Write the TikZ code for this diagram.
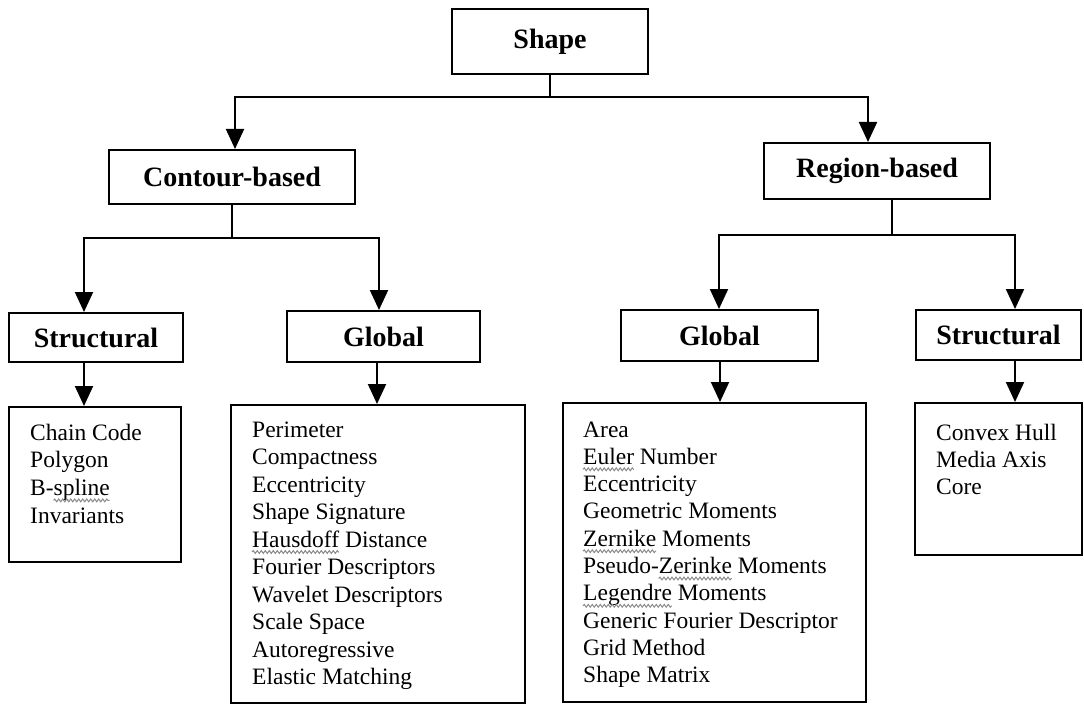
\documentclass[tikz,border=0pt]{standalone}
\usepackage{fontspec}
\setmainfont{Liberation Serif}
\usetikzlibrary{arrows.meta,decorations.pathmorphing}
\begin{document}
\begin{tikzpicture}[x=1pt,y=-1pt,
  box/.style={draw, line width=2pt, inner sep=0pt, anchor=center},
  head/.style={box, font=\fontsize{28}{32}\selectfont\bfseries},
  item/.style={anchor=base west, inner sep=0pt, font=\fontsize{23.5}{27.5}\selectfont},
  link/.style={line width=2pt},
  squig/.style={draw=black!45, line width=1pt, decorate,
    decoration={snake, amplitude=1.4pt, segment length=4pt}},
  arr/.style={line width=2pt, -{Triangle[width=18pt,length=20pt]}}]
\useasboundingbox[fill=white] (0,0) rectangle (1084,706);

% heading boxes
\node[head, minimum width=196pt, minimum height=65pt] (shape) at (550,41.5) {Shape};
\node[head, minimum width=246pt, minimum height=54pt] (contour) at (232,177) {Contour-based};
\node[head, minimum width=226pt, minimum height=56pt] (region) at (877,171) {Region-based};
\node[head, minimum width=174pt, minimum height=49pt] (structL) at (96,337.5) {Structural};
\node[head, minimum width=193pt, minimum height=51pt] (globalL) at (383.5,336.5) {Global};
\node[head, minimum width=197pt, minimum height=51pt] (globalR) at (719.5,335.5) {Global};
\node[head, minimum width=165pt, minimum height=50pt] (structR) at (998.5,335) {Structural};

% list boxes
\node[box, minimum width=172pt, minimum height=155pt] (listSL) at (95,484.5) {};
\node[box, minimum width=294pt, minimum height=298pt] (listGL) at (378,554) {};
\node[box, minimum width=303pt, minimum height=299pt] (listGR) at (714.5,552.5) {};
\node[box, minimum width=167pt, minimum height=152pt] (listSR) at (998.5,479) {};

% list items
\foreach \t [count=\i] in {Chain Code, Polygon, B-spline, Invariants}
  \node[item] (sl\i) at ({30},{440+27.7*(\i-1)}) {\t};
\foreach \t [count=\i] in {Perimeter, Compactness, Eccentricity, Shape Signature,
    Hausdoff Distance, Fourier Descriptors, Wavelet Descriptors, Scale Space,
    Autoregressive, Elastic Matching}
  \node[item] (gl\i) at ({252},{437+27.5*(\i-1)}) {\t};
\foreach \t [count=\i] in {Area, Euler Number, Eccentricity, Geometric Moments,
    Zernike Moments, Pseudo-Zerinke Moments, Legendre Moments,
    Generic Fourier Descriptor, Grid Method, Shape Matrix}
  \node[item] (gr\i) at ({583},{437+27.3*(\i-1)}) {\t};
\foreach \t [count=\i] in {Convex Hull, Media Axis, Core}
  \node[item] (sr\i) at ({936},{440+27.3*(\i-1)}) {\t};

% spelling squiggles under some words
\fontsize{23.5}{27.5}\selectfont
\pgfmathsetmacro\wBd{width("B-")}
\pgfmathsetmacro\wSp{width("spline")}
\pgfmathsetmacro\wHa{width("Hausdoff")}
\pgfmathsetmacro\wEu{width("Euler")}
\pgfmathsetmacro\wZe{width("Zernike")}
\pgfmathsetmacro\wPs{width("Pseudo-")}
\pgfmathsetmacro\wZi{width("Zerinke")}
\pgfmathsetmacro\wLe{width("Legendre")}
\draw[squig] ([shift={(\wBd,5)}]sl3.base west) -- ++(\wSp,0);
\draw[squig] ([shift={(0,5)}]gl5.base west) -- ++(\wHa,0);
\draw[squig] ([shift={(0,5)}]gr2.base west) -- ++(\wEu,0);
\draw[squig] ([shift={(0,5)}]gr5.base west) -- ++(\wZe,0);
\draw[squig] ([shift={(\wPs,5)}]gr6.base west) -- ++(\wZi,0);
\draw[squig] ([shift={(0,5)}]gr7.base west) -- ++(\wLe,0);

% connectors
\coordinate (j0) at (550,97);
\draw[link] (shape.south) -- (j0);
\draw[arr] (j0) -| (235,0 |- contour.north);
\draw[arr] (j0) -| (868,0 |- region.north);

\coordinate (j1) at (232,238);
\draw[link] (contour.south) -- (j1);
\draw[arr] (j1) -| (84,0 |- structL.north);
\draw[arr] (j1) -| (379,0 |- globalL.north);

\coordinate (j2) at (892,235);
\draw[link] (892,0 |- region.south) -- (j2);
\draw[arr] (j2) -| (719,0 |- globalR.north);
\draw[arr] (j2) -| (1015,0 |- structR.north);

\draw[arr] (84,0 |- structL.south) -- (84,0 |- listSL.north);
\draw[arr] (377,0 |- globalL.south) -- (377,0 |- listGL.north);
\draw[arr] (720,0 |- globalR.south) -- (720,0 |- listGR.north);
\draw[arr] (1015,0 |- structR.south) -- (1015,0 |- listSR.north);
\end{tikzpicture}
\end{document}
